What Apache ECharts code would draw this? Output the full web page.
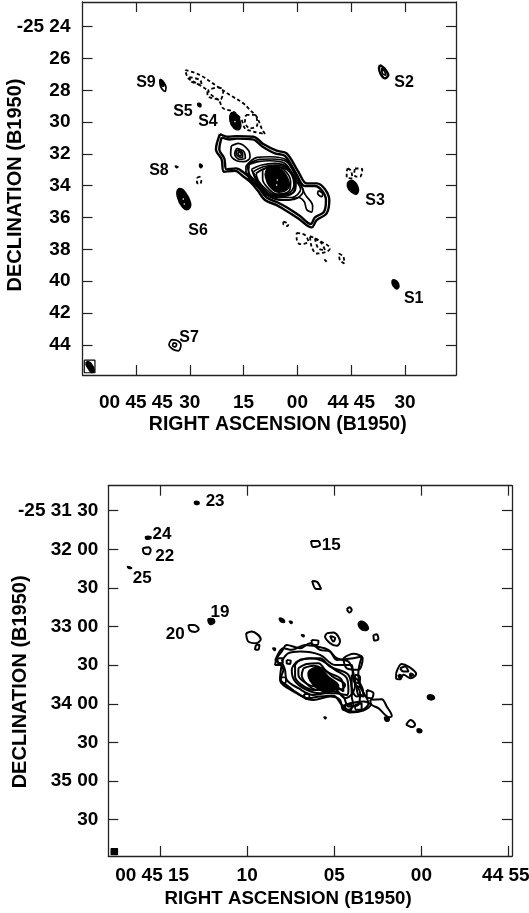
<!DOCTYPE html>
<html><head><meta charset="utf-8">
<style>html,body{margin:0;padding:0;background:#fff}#c{width:529px;height:913px}</style>
<script src="https://cdn.jsdelivr.net/npm/echarts@6/dist/echarts.min.js"></script>
</head><body><div id="c"></div>
<script>
// ---------- Upper panel: x = RA seconds after 00h44m, y = Dec arcmin after -25 deg
const topRaTicks = [105, 90, 75, 60, 45, 30];
const topRaLabels = ['00 45 45', '30', '15', '00', '44 45', '30'];
const topDecTicks = [24, 26, 28, 30, 32, 34, 36, 38, 40, 42, 44];
const topDecLabels = ['-25 24', '26', '28', '30', '32', '34', '36', '38', '40', '42', '44'];
const topSourceNames = ['S9', 'S5', 'S4', 'S8', 'S2', 'S3', 'S6', 'S1', 'S7'];
const topSourceRa = [102.21, 91.9, 84.93, 98.59, 30.28, 38.37, 87.71, 27.58, 90.22];
const topSourceDec = [27.51, 29.35, 30.0, 33.08, 27.51, 34.92, 36.79, 41.11, 43.54];

const topOuter = [
  [[81.58,30.75],[82.7,31.72],[81.12,32.34],[80.47,33.12],[77.4,33.06],[75.55,33.33],[73.22,33.75],[71.18,34.27],[69.04,34.9],[65.79,35.22],[63.47,35.53],[59.75,36.06],[56.04,36.62],[54.64,36.16],[51.85,35.74],[51.11,34.9],[54.64,33.85],[57.43,33.85],[59.75,33.12],[63,31.97],[65.79,31.8],[69.5,31.38],[72.29,30.92],[76.94,30.88],[79.26,30.92]],
  [[81.12,30.96],[81.77,31.72],[80.38,32.28],[79.73,32.97],[77.12,32.91],[74.9,33.18],[72.76,33.6],[70.62,34.17],[68.58,34.74],[65.33,35.07],[63,35.36],[59.28,35.91],[56.31,36.41],[55.11,35.99],[52.6,35.64],[52.04,34.9],[55.11,34.02],[57.9,34.02],[60.4,33.22],[63.47,32.13],[66.26,31.97],[69.69,31.55],[72.48,31.09],[76.94,31.04],[78.98,31.09]],
  [[36.98,26.41],[35.77,26.62],[34.66,27.04],[35.59,27.25],[36.8,26.98],[37.26,26.62]]
];
const topSolid = [
  [[74.34,32.76],[71.18,32.22],[67.65,32.18],[63,32.39],[59.75,33.54],[57.9,34.53],[55.76,35.28],[56.04,35.66],[57.43,35.49],[58.08,35.01],[59.75,34.74],[62.54,34.9],[65.33,34.86],[68.11,34.61],[70.44,34.06],[72.76,33.48],[74.34,33.12]],
  [[78.43,31.51],[76.47,31.34],[73.69,31.76],[73.22,32.22],[74.9,32.49],[76.94,32.43],[78.61,32.01]],
  [[76.94,31.65],[74.9,31.86],[74.52,32.28],[76.2,32.34],[77.5,31.97]],
  [[76.66,31.76],[75.27,31.97],[75.27,32.22],[76.38,32.18],[77.12,31.93]],
  [[76.38,31.86],[75.64,32.01],[75.82,32.13],[76.57,32.01]],
  [[73.97,32.7],[70.9,32.49],[67.65,32.43],[63.47,32.6],[60.68,33.6],[59.1,34.23],[61.61,34.74],[65.33,34.74],[68.58,34.44],[71.18,33.81],[73.22,33.33]],
  [[73.41,32.6],[70.44,32.34],[67.19,32.32],[63,32.49],[60.03,33.64],[58.36,34.32],[60.96,34.86],[64.86,34.9],[68.58,34.59],[71.55,33.96],[73.69,33.43]],
  [[72.76,32.97],[69.97,32.7],[66.26,32.6],[62.82,32.85],[60.4,33.85],[60.68,34.32],[63.47,34.65],[66.72,34.65],[69.5,34.27],[71.55,33.64]],
  [[72.3,33.12],[69.5,32.81],[65.98,32.7],[62.54,32.97],[60.68,33.9],[61.33,34.44],[63.93,34.59],[66.9,34.61],[69.32,34.23],[71.37,33.6]],
  [[71.55,33.23],[69.04,32.91],[65.79,32.81],[62.26,33.12],[60.96,33.96],[62.54,34.48],[66.26,34.57],[69.04,34.17],[70.9,33.69]],
  [[69.69,33.02],[67.19,32.76],[63.93,32.97],[61.89,33.75],[62.26,34.32],[65.79,34.52],[68.11,34.17],[69.69,33.6]],
  [[54.18,34.31],[52.97,34.52],[53.25,34.69],[54.36,34.48]],
  [[98.31,27.31],[97.38,27.46],[96.64,27.81],[96.92,28.07],[97.66,27.94],[98.31,27.6]],
  [[95.06,43.67],[93.67,43.71],[92.46,44.02],[93.2,44.38],[94.6,44.3],[95.8,43.98]],
  [[94.6,43.88],[93.67,43.96],[94.04,44.13],[94.78,44.04]],
  [[36.5,26.6],[35.6,26.85],[35.3,27.05],[36.3,26.95]]
];
const topDashed = [
  [[91.25,26.72],[87.16,27.04],[82.52,27.73],[78.8,28.3],[75.08,28.82],[73.22,29.24],[71.36,29.66],[69.97,30.39],[69.04,30.75],[72.29,30.6],[74.62,30.39],[75.55,29.87],[77.87,29.34],[80.66,29.14],[82.05,28.61],[84.84,28.4],[85.3,27.98],[88.09,27.56],[90.42,27.25]],
  [[74.34,29.55],[71.83,29.55],[71.18,30.18],[73.22,30.39],[74.62,29.97]],
  [[82.05,27.81],[80.66,27.98],[81.59,28.61],[84.84,28.02]],
  [[90.14,27.18],[87.16,27.35],[86.7,27.67],[89.49,27.46]],
  [[87.16,33.43],[88,33.54],[88,33.81],[87.16,33.88],[86.79,33.69]],
  [[45.99,32.91],[45.06,33.06],[44.69,33.54],[46.27,33.48],[46.27,33.12]],
  [[43.95,32.91],[41.9,32.97],[42.55,33.43],[43.76,33.43],[44.13,33.12]],
  [[60.21,36.96],[57.9,37.1],[56.96,37.52],[59.28,37.67],[60.21,37.31]],
  [[56.49,37.17],[54.17,37.42],[50.92,37.94],[51.85,38.15],[54.64,38.26],[56.03,37.84]],
  [[55.1,37.31],[53.24,37.63],[52.31,38.05],[54.17,37.94]],
  [[52.5,38.63],[51.85,38.78]],
  [[48.41,38.26],[47.2,38.47],[46.92,38.89],[48.13,38.68]],
  [[63.93,36.26],[62.53,36.41],[62.72,36.54],[63.93,36.41]]
];
const topFilled = [
  [[68.76,33.06],[67.19,32.83],[64.4,33.02],[62.35,33.75],[62.82,34.23],[65.61,34.4],[67.84,34.02],[68.86,33.48]],
  [[78.33,29.41],[76.76,29.55],[75.82,30.08],[76.2,30.46],[77.68,30.39],[78.8,29.91]],
  [[93.2,34.21],[91.62,34.31],[89.76,35.11],[90.41,35.49],[92,35.36],[93.48,34.69]],
  [[45.81,33.75],[44.41,33.69],[43.02,34.17],[43.48,34.52],[45.06,34.38],[46.09,34.02]],
  [[33.45,39.93],[32.33,40],[31.68,40.31],[32.33,40.5],[33.26,40.31],[33.63,40.1]],
  [[98.22,27.35],[97.38,27.48],[97.2,27.73],[97.94,27.69]],
  [[87.72,28.82],[86.98,28.86],[86.98,29.03],[87.63,28.99]],
  [[94.04,32.76],[93.3,32.81],[93.67,32.87]],
  [[87.16,32.64],[86.51,32.74],[86.88,32.87],[87.25,32.78]],
  [[118.57,45.07],[117.64,45.14],[116.62,45.6],[117.36,45.74],[118.29,45.49],[118.94,45.22]]
];
const topSpecks = [[91.81,34.84],[91.53,35.15],[65.6,33.64],[65.79,33.96],[77.4,29.97]];
const topBeamBox = [[119.41,44.97],[116.43,44.97],[116.43,45.76],[119.41,45.76]];

// ---------- Lower panel: x = RA seconds after 00h45m, y = Dec arcsec after -25 31 00
const lowRaTicks = [15, 10, 5, 0, -5];
const lowRaLabels = ['00 45 15\u00a0\u00a0\u00a0', '10', '05', '00', '44 55\u00a0'];
const lowDecTicks = [30, 60, 90, 120, 150, 180, 210, 240, 270];
const lowDecLabels = ['-25 31 30', '32 00', '30', '33 00', '30', '34 00', '30', '35 00', '30'];
const lowSourceNames = ['23', '24', '22', '25', '19', '20', '15'];
const lowSourceRa = [11.84, 14.89, 14.73, 16.02, 11.56, 14.13, 5.18];
const lowSourceDec = [23, 48.3, 65.7, 82.5, 109.2, 125.9, 56.6];

const lowSolid = [
  [[8.4,145.9],[8.02,139.4],[7.73,134.3],[6.96,136.8],[6.39,132.9],[5.82,138.1],[5.24,139.4],[4.86,145.9],[3.9,144.6],[3.42,143.3],[3.62,156.2],[3.52,166.6],[3.04,179.5],[3.71,186],[4.48,184.7],[4.67,177],[5.24,174.3],[6.2,177],[7.16,171.8],[8.11,161.4],[7.92,153.6]],
  [[8.3,143.3],[8.4,149.8],[8.02,149.8],[8.11,160.1],[7.63,166.6],[6.96,173.1],[6.49,175.6],[5.82,174.3],[5.05,173.8],[4.57,180.8],[4.19,184.7],[3.9,180.8],[4,174.3],[3.81,166.6],[3.9,156.2],[4.19,147.2],[4.86,144.6],[5.34,138.1],[6.01,135.5],[6.68,134.3],[7.44,138.1],[7.92,136.8]],
  [[8.02,147.2],[7.63,140.7],[6.96,139.4],[5.82,142],[4.96,149.8],[4,149.8],[3.9,161.4],[3.52,171.8],[3.62,180.8],[4.19,182.1],[4.48,174.3],[5.05,170.5],[6.2,173.1],[7.06,167.9],[7.73,161.4],[7.83,153.6]],
  [[7.16,147.2],[6.39,144.6],[5.72,146.4],[4.95,153.6],[4.28,160.1],[4.19,169.2],[4.28,173.1],[4.95,171.8],[5.82,171.8],[6.68,168.6],[7.31,161.4],[7.44,153.6]],
  [[7.25,149.8],[6.87,145.4],[5.82,144.6],[5.24,151.1],[4.19,157.5],[4,171.8],[4.38,175.6],[5.05,167.9],[6.2,169.2],[6.87,165.3],[7.25,158.8]],
  [[7.06,152.4],[6.58,149],[5.91,148.5],[5.43,155],[4.57,161.4],[4.48,170.5],[5.15,165.3],[6.1,166.6],[6.77,162.7],[7.06,157.5]],
  [[6.77,152.4],[6.2,150.5],[5.62,153.1],[5.05,159.3],[4.38,165.3],[4.57,168.6],[5.24,168.6],[6.01,169.2],[6.62,164],[6.87,157.5]],
  [[8.26,144.6],[7.96,144.6],[7.96,148],[8.21,148.5]],
  [[8.07,159.3],[7.77,160.1],[7.83,164],[8.05,163.5]],
  [[7.73,145.9],[7.5,146.4],[7.54,149],[7.73,148.5]],
  [[6.73,172.3],[6.43,173.1],[6.49,176.4],[6.7,175.6]],
  [[3.81,157.5],[3.52,159.3],[3.56,164],[3.81,162.7]],
  [[3.71,166.6],[3.43,167.9],[3.29,174.3],[3.62,173.1]],
  [[4.38,180.8],[4,180.8],[4.06,185.2],[4.32,184.7]],
  [[3.81,180.8],[3.43,179.5],[3.43,184.2],[3.75,184.7]],
  [[4.57,182.1],[4.09,186.8],[3.33,185.2],[2.91,180.8],[3.33,178.2],[4.09,179.5]],
  [[4.48,144.6],[3.9,141.2],[3.37,144.6],[3.62,153.6],[4.28,152.4]],
  [[4,157.5],[3.52,164],[3.33,171.8],[3.71,174.3],[4,166.6]],
  [[3.14,169.2],[2.75,171.8],[2.85,175.6],[3.14,174.3]],
  [[2.94,176.9],[2.28,176.4],[1.99,182.1],[1.7,189.4],[1.84,190.4],[2.47,183.4],[2.85,180.8]],
  [[0.88,196.3],[0.61,192.5],[0.36,196.3],[0.55,198.1],[0.74,197.1]],
  [[1.45,156.2],[1.13,149],[0.74,151.1],[0.3,156.8],[0.61,160.1],[1.03,157.5],[1.22,160.9],[1.45,160.1]],
  [[1.22,152.4],[0.94,151.1],[0.74,155],[1.03,155]],
  [[0.65,156.2],[0.46,157.5],[0.65,158.8]],
  [[1.32,157.5],[1.13,158.3],[1.26,159.6]],
  [[4.28,106.6],[4.13,105],[4,107.1],[4.13,109.1]],
  [[2.75,126.5],[2.56,126],[2.47,129.8],[2.7,130.9]],
  [[6.3,130.4],[5.91,130.9],[5.97,134.3],[6.24,134.3]],
  [[5.43,125.2],[5.05,124.7],[4.67,131.7],[4.86,135],[5.24,132.9],[5.53,127.8]],
  [[5.24,127.3],[4.95,129.1],[5.05,131.7]],
  [[10.06,125.2],[9.74,123.9],[9.22,129.8],[9.49,132.9],[9.93,131.7]],
  [[9.49,134.2],[9.3,134.2],[9.36,138.1],[9.55,137.6]],
  [[15.99,59.2],[15.67,58.4],[15.54,60.5],[15.67,63.9],[15.92,63.1]],
  [[13.37,118.7],[13.05,118.7],[12.78,122.1],[12.99,124.2],[13.28,123.1]],
  [[6.33,53.5],[5.93,53.5],[5.82,56.6],[6.22,58.2]],
  [[6.27,84.6],[5.99,85.3],[5.76,90.8],[6.04,90.8]]
];
const lowFilled = [
  [[6.39,153.6],[5.82,152.4],[5.34,158.8],[4.76,165.3],[4.95,169.2],[5.62,170.5],[6.2,165.3],[6.49,158.8]],
  [[3.6,116.9],[3.33,116.1],[3.04,121.3],[3.23,123.1],[3.52,121.3]],
  [[2.1,190.4],[1.87,190.9],[1.87,193],[2.06,193]],
  [[0.23,199.7],[0,200.2],[0,202],[0.21,202]],
  [[-0.37,173.6],[-0.69,173.8],[-0.73,176.2],[-0.4,176.4]],
  [[8.15,113.5],[7.92,114.3],[7.86,116.6],[8.07,116.1]],
  [[7.58,115.9],[7.42,116.4],[7.46,117.7]],
  [[6.89,126.5],[6.73,126.7],[6.77,128]],
  [[8.53,136.8],[8.38,137.1],[8.42,138.6]],
  [[5.59,190.4],[5.47,190.6],[5.51,191.7]],
  [[13.01,23],[12.78,23.25],[12.78,24.8],[12.99,24.8]],
  [[15.82,50.2],[15.54,50.2],[15.54,51.7],[15.8,52]],
  [[16.86,73.4],[16.63,74.5],[16.8,74.8]],
  [[12.24,114.3],[11.94,114.1],[11.88,116.9],[12.13,118.2]]
];
const lowBeam = [[[17.8,292.5],[17.45,292.5],[17.45,297],[17.8,297]]];

// ---------- Build
const INK = '#000', AXIS = '#222', FONT = '"Liberation Sans", Arial, sans-serif';
function axis(gridIndex, pos, ticks, labels, ext, margin, name, gap, pad, nameSize) {
  const show = pos === 'bottom' || pos === 'left';
  return {
    type: 'value', gridIndex, position: pos, inverse: true, min: ext[0], max: ext[1],
    splitLine: { show: false }, axisLine: { show: true, onZero: false, lineStyle: { color: AXIS, width: 1.3 } },
    axisTick: { show: true, inside: true, length: 10, customValues: ticks, lineStyle: { color: AXIS, width: 1.2 } },
    axisLabel: { show, customValues: ticks, margin, hideOverlap: false, color: INK, fontFamily: FONT, fontWeight: 'bold', fontSize: 19,
      formatter: v => labels[ticks.indexOf(v)] },
    name: show ? name : '', nameLocation: 'middle', nameGap: gap, nameMoveOverlap: false,
    nameTextStyle: { color: INK, fontFamily: FONT, fontWeight: 'bold', fontSize: nameSize, padding: pad }
  };
}
const series = [];
function addRings(rings, axisIdx, type, width) {
  rings.forEach(r => series.push({
    type: 'line', xAxisIndex: axisIdx, yAxisIndex: axisIdx, data: r.length > 2 ? r.concat([r[0]]) : r,
    showSymbol: false, smooth: 0.35, silent: true, animation: false, clip: true,
    lineStyle: { color: INK, width, type }
  }));
}
function addFilled(rings, axisIdx, smooth) {
  series.push({
    type: 'custom', coordinateSystem: 'cartesian2d', xAxisIndex: axisIdx, yAxisIndex: axisIdx,
    data: rings.map(r => r[0]), silent: true, animation: false,
    renderItem: (p, api) => ({
      type: 'polygon',
      shape: { points: rings[p.dataIndex].map(q => api.coord(q)), smooth },
      style: { fill: INK, stroke: INK, lineWidth: 1.5, lineJoin: 'round' }
    })
  });
}
function addLabels(names, ra, dec, axisIdx, size) {
  series.push({
    type: 'scatter', xAxisIndex: axisIdx, yAxisIndex: axisIdx, symbolSize: 1, silent: true, animation: false,
    itemStyle: { color: '#fff', opacity: 1 },
    data: names.map((n, i) => ({ name: n, value: [ra[i], dec[i]] })),
    label: { show: true, position: 'inside', formatter: '{b}', color: INK, opacity: 1, fontFamily: FONT, fontWeight: 'bold', fontSize: size }
  });
}
addRings(topOuter, 0, 'solid', 2.4);
addRings(topSolid, 0, 'solid', 1.7);
addRings(topDashed, 0, [3.5, 2.5], 1.8);
addRings([topBeamBox], 0, 'solid', 1.2);
addFilled(topFilled, 0, 0.4);
series.push({ type: 'scatter', xAxisIndex: 0, yAxisIndex: 0, symbolSize: 1.6, silent: true, animation: false, itemStyle: { color: '#fff', opacity: 1 }, data: topSpecks });
addLabels(topSourceNames, topSourceRa, topSourceDec, 0, 16);
addRings(lowSolid, 1, 'solid', 2);
addFilled(lowFilled, 1, 0.4);
addFilled(lowBeam, 1, 0);
addLabels(lowSourceNames, lowSourceRa, lowSourceDec, 1, 17);

const topRaExt = [15.8, 119.9], topDecExt = [22.45, 45.9];
const lowRaExt = [-5.2, 17.97], lowDecExt = [10.6, 298.2];
const nameX = 'RIGHT ASCENSION (B1950)', nameY = 'DECLINATION (B1950)';
const chart = echarts.init(document.getElementById('c'), null, { renderer: 'canvas' });
chart.setOption({
  backgroundColor: '#fff', animation: false,
  grid: [
    { left: 82.5, top: 2, width: 373.5, height: 373, outerBoundsMode: 'none', containLabel: false },
    { left: 108.3, top: 485.7, width: 403.7, height: 370.3, outerBoundsMode: 'none', containLabel: false }
  ],
  xAxis: [
    axis(0, 'bottom', topRaTicks, topRaLabels, topRaExt, 18, nameX, 40, [0, 0, 0, 17], 19.5),
    axis(1, 'bottom', lowRaTicks, lowRaLabels, lowRaExt, 10, nameX, 33, [0, 44, 0, 0], 18.7),
    axis(0, 'top', topRaTicks, topRaLabels, topRaExt, 0, '', 0),
    axis(1, 'top', lowRaTicks, lowRaLabels, lowRaExt, 0, '', 0)
  ],
  yAxis: [
    axis(0, 'left', topDecTicks, topDecLabels, topDecExt, 12, nameY, 57, [0, 0, 0, 7], 20),
    axis(1, 'left', lowDecTicks, lowDecLabels, lowDecExt, 10, nameY, 78, [0, 22, 0, 0], 20),
    axis(0, 'right', topDecTicks, topDecLabels, topDecExt, 0, '', 0),
    axis(1, 'right', lowDecTicks, lowDecLabels, lowDecExt, 0, '', 0)
  ],
  series
});
</script></body></html>
